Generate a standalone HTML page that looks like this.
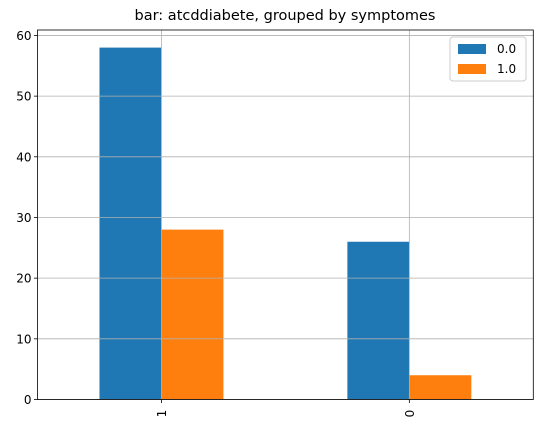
<!DOCTYPE html>
<html><head><meta charset="utf-8"><style>
html,body{margin:0;padding:0;background:#fff;}
svg{display:block;font-family:"DejaVu Sans","Liberation Sans",sans-serif;}
</style></head><body>
<svg id="chart" width="546" height="428">
<text x="285" y="20" text-anchor="middle" font-size="14.5">bar: atcddiabete, grouped by symptomes</text>
<g id="plot"></g>
</svg>
<script>
const categories = ["1", "0"];
const seriesNames = ["0.0", "1.0"];
const series0 = [58, 26];
const series1 = [28, 4];
const seriesColors = ["#1f77b4", "#ff7f0e"];
const yTicks = [0, 10, 20, 30, 40, 50, 60];

const L = 37.5, R = 533.3, T = 30, B = 399.5;
const yMax = 60.9;
const y = v => B - v / yMax * (B - T);
const band = (R - L) / categories.length;
const x = i => L + (i + 0.5) * band;
const bw = band / 4;
const ns = "http://www.w3.org/2000/svg";
const g = document.getElementById("plot");
function mk(tag, attrs) {
  const e = document.createElementNS(ns, tag);
  for (const k in attrs) e.setAttribute(k, attrs[k]);
  g.appendChild(e);
  return e;
}
const allSeries = [series0, series1];
allSeries.forEach((s, si) => {
  s.forEach((v, i) => {
    const xl = x(i) - bw + si * bw;
    const r = mk("rect", {x: xl, y: y(v), width: bw, height: B - y(v), fill: seriesColors[si]});
    
    
  });
});
yTicks.forEach(t => {
  const gl = mk("line", {x1: L, x2: R, y1: y(t), y2: y(t), stroke: "#b0b0b0", "stroke-width": 0.8});
  
  
  mk("line", {x1: L - 3.5, x2: L, y1: y(t), y2: y(t), stroke: "#000", "stroke-width": 0.8});
  const tx = mk("text", {x: L - 6, y: y(t) + 4.5, "text-anchor": "end", "font-size": 12});
  tx.textContent = t;
  
  
});
categories.forEach((c, i) => {
  const gl = mk("line", {x1: x(i), x2: x(i), y1: T, y2: B, stroke: "#b0b0b0", "stroke-width": 0.8});
  
  
  mk("line", {x1: x(i), x2: x(i), y1: B, y2: B + 3.5, stroke: "#000", "stroke-width": 0.8});
  const tx = mk("text", {x: 0, y: 0, "text-anchor": "middle", "font-size": 12, transform: `translate(${x(i) + 4.5},${B + 14}) rotate(-90)`});
  tx.textContent = c;
  
  
});
const frame = mk("rect", {x: L, y: T, width: R - L, height: B - T, fill: "none", stroke: "#000", "stroke-width": 0.8});


// legend
const lg = mk("rect", {x: 450, y: 37, width: 76, height: 44, fill: "#fff", "fill-opacity": 0.8, stroke: "#ccc", rx: 3});


seriesNames.forEach((n, si) => {
  const yy = 48 + si * 20;
  const sw = mk("rect", {x: 458, y: yy - 4, width: 28, height: 10, fill: seriesColors[si]});
  
  
  const t = mk("text", {x: 497, y: yy + 5, "font-size": 12});
  t.textContent = n;
  
  
});
</script>
</body></html>
